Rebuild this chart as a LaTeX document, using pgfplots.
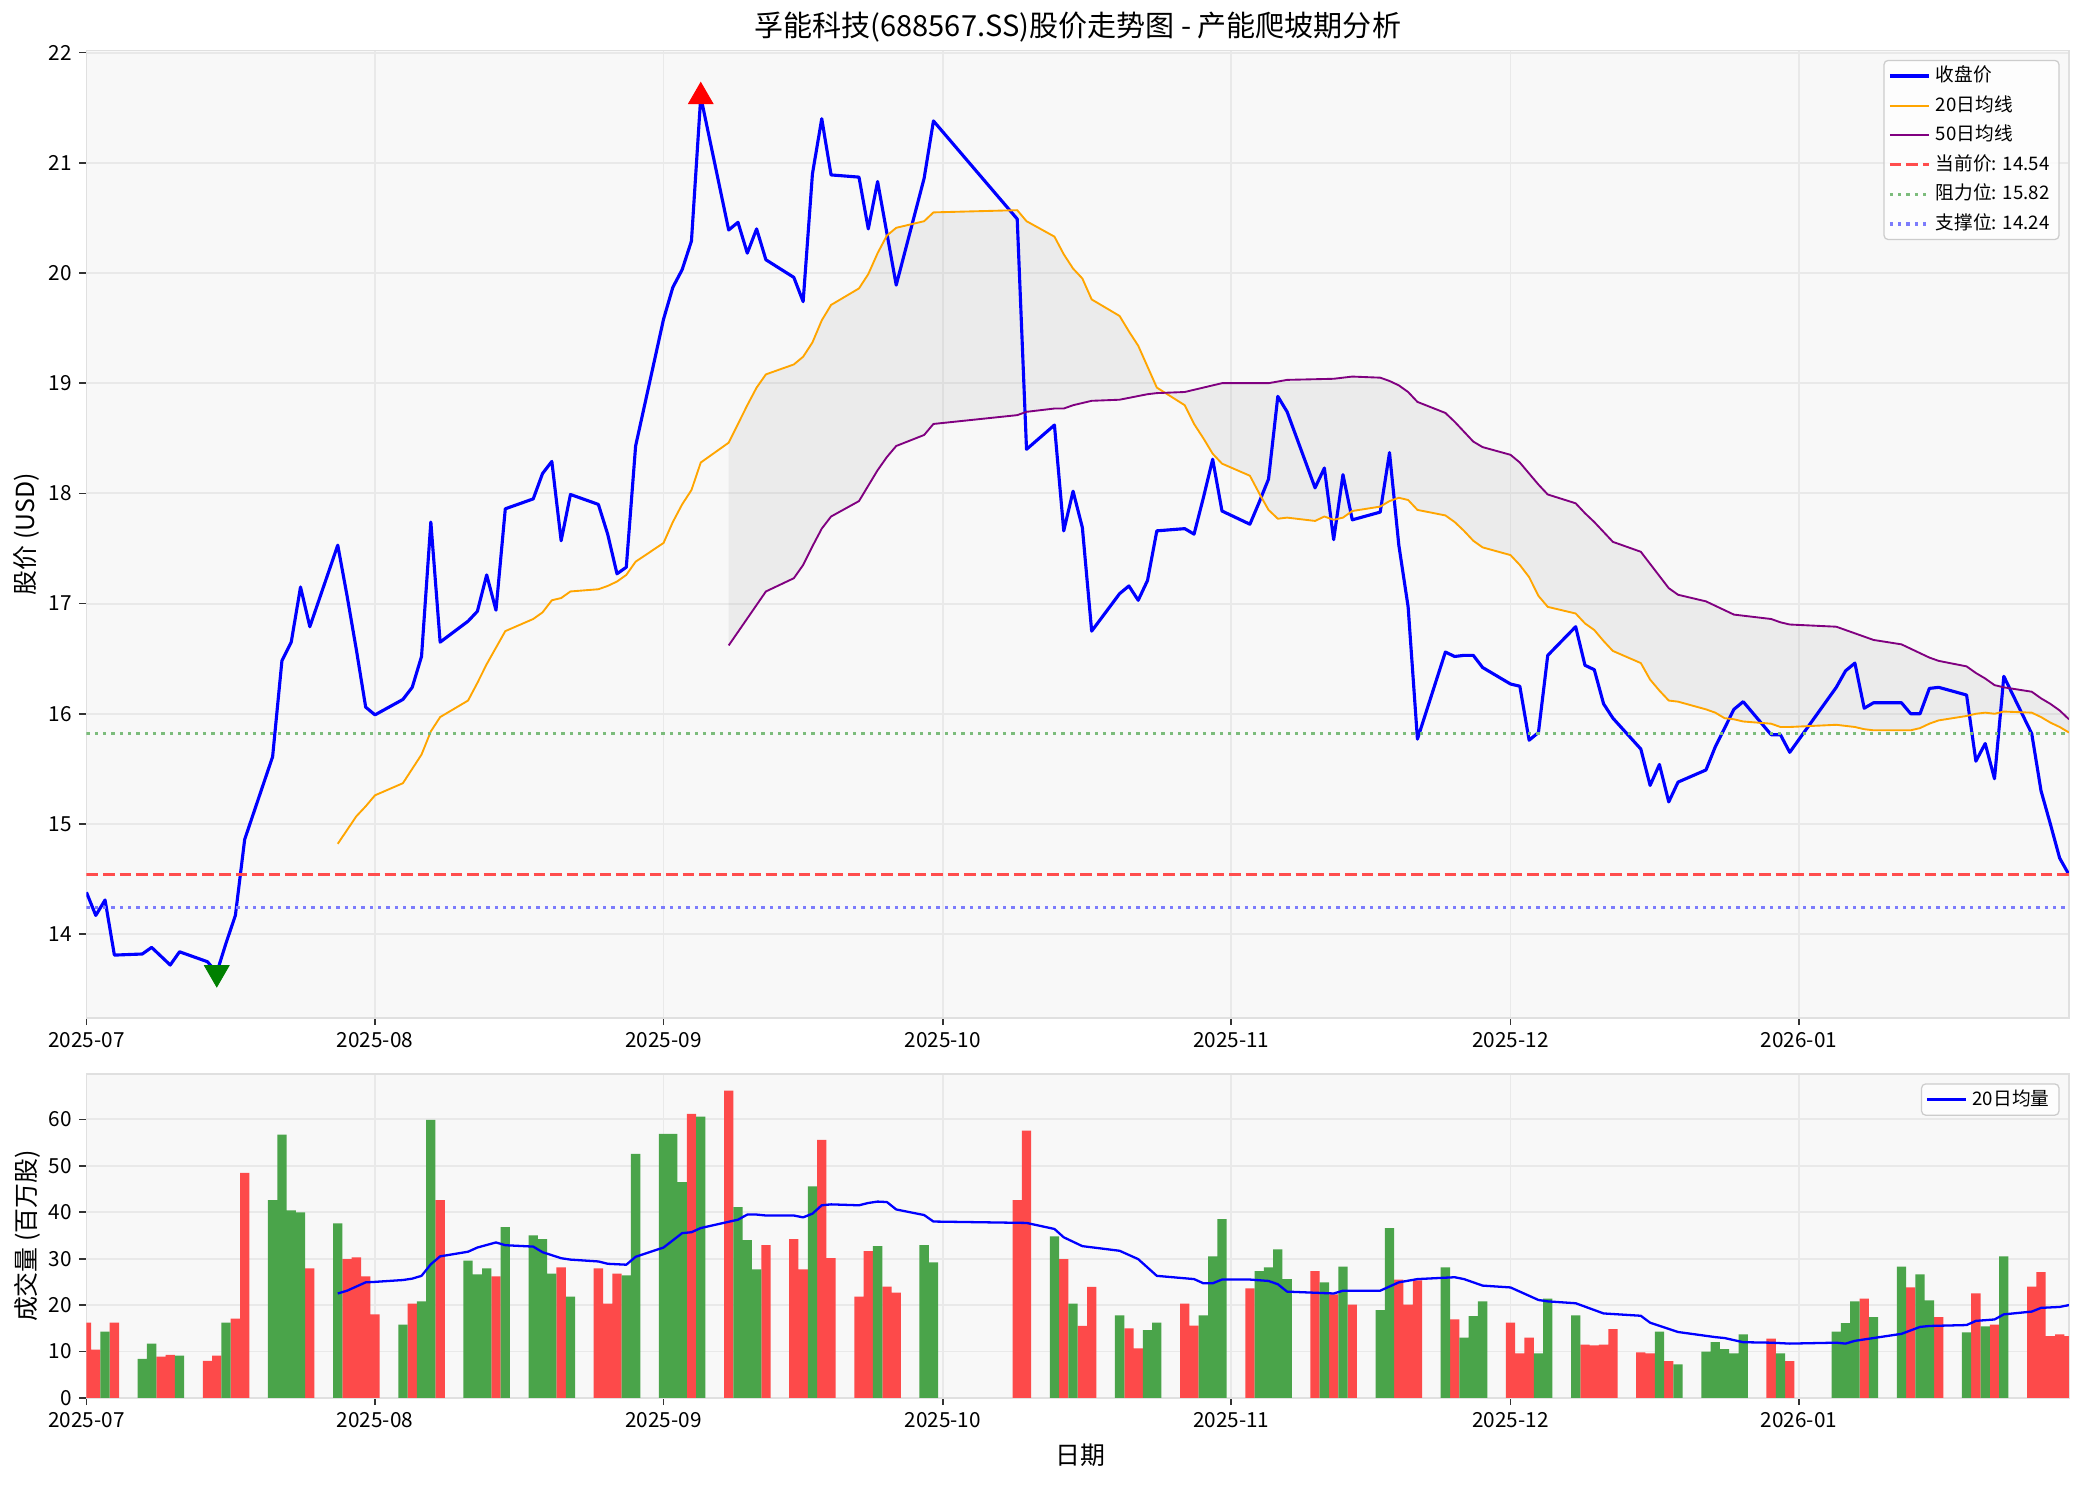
\documentclass[border=0pt]{standalone}
\usepackage{fontspec}
\setmainfont{Noto Sans CJK SC}
\usepackage{pgfplots}
\pgfplotsset{compat=1.18}
\usepackage{pgfplotstable}

\definecolor{bgc}{RGB}{248,248,248}
\definecolor{gridc}{RGB}{233,233,233}
\definecolor{upred}{RGB}{253,74,74}
\definecolor{dngreen}{RGB}{74,164,74}
\definecolor{maor}{RGB}{255,165,0}
\definecolor{mapu}{RGB}{128,0,128}
\definecolor{curred}{RGB}{255,77,77}
\definecolor{resgreen}{RGB}{124,188,124}
\definecolor{supblue}{RGB}{124,124,252}
\definecolor{mgreen}{RGB}{0,128,0}

\pgfplotstableread{
d v
0 14.38
1 14.17
2 14.31
3 13.81
6 13.82
7 13.88
8 13.80
9 13.72
10 13.84
13 13.75
14 13.65
15 13.92
16 14.17
17 14.86
20 15.61
21 16.48
22 16.65
23 17.15
24 16.79
27 17.53
28 17.07
29 16.58
30 16.06
31 15.99
34 16.13
35 16.24
36 16.52
37 17.74
38 16.65
41 16.84
42 16.93
43 17.26
44 16.94
45 17.86
48 17.95
49 18.18
50 18.29
51 17.57
52 17.99
55 17.90
56 17.63
57 17.27
58 17.33
59 18.43
62 19.58
63 19.87
64 20.03
65 20.29
66 21.60
69 20.39
70 20.46
71 20.18
72 20.40
73 20.12
76 19.96
77 19.74
78 20.90
79 21.40
80 20.89
83 20.87
84 20.40
85 20.83
86 20.36
87 19.89
90 20.86
91 21.38
100 20.49
101 18.40
104 18.62
105 17.66
106 18.02
107 17.69
108 16.75
111 17.09
112 17.16
113 17.03
114 17.21
115 17.66
118 17.68
119 17.63
120 17.96
121 18.31
122 17.84
125 17.72
126 17.92
127 18.13
128 18.88
129 18.74
132 18.05
133 18.23
134 17.58
135 18.17
136 17.76
139 17.83
140 18.37
141 17.53
142 16.97
143 15.77
146 16.56
147 16.52
148 16.53
149 16.53
150 16.42
153 16.27
154 16.25
155 15.76
156 15.83
157 16.53
160 16.79
161 16.44
162 16.40
163 16.09
164 15.96
167 15.68
168 15.35
169 15.54
170 15.20
171 15.38
174 15.49
175 15.70
176 15.87
177 16.04
178 16.11
181 15.81
182 15.81
183 15.65
188 16.24
189 16.39
190 16.46
191 16.05
192 16.10
195 16.10
196 16.00
197 16.00
198 16.23
199 16.24
202 16.17
203 15.57
204 15.73
205 15.41
206 16.34
209 15.82
210 15.30
211 15.00
212 14.69
213 14.54
}\closedata

\pgfplotstableread{
d v
27 14.82
29 15.07
30 15.16
31 15.26
34 15.37
35 15.50
36 15.63
37 15.84
38 15.97
41 16.12
42 16.28
43 16.45
44 16.60
45 16.75
48 16.86
49 16.92
50 17.03
51 17.05
52 17.11
55 17.13
56 17.16
57 17.20
58 17.26
59 17.38
62 17.55
63 17.74
64 17.90
65 18.03
66 18.28
69 18.46
70 18.63
71 18.80
72 18.96
73 19.08
76 19.17
77 19.24
78 19.37
79 19.57
80 19.71
83 19.86
84 19.99
85 20.18
86 20.34
87 20.41
90 20.47
91 20.55
100 20.57
101 20.47
104 20.33
105 20.17
106 20.04
107 19.95
108 19.76
111 19.61
112 19.47
113 19.34
114 19.15
115 18.96
118 18.80
119 18.63
120 18.50
121 18.36
122 18.27
125 18.16
126 18.00
127 17.85
128 17.77
129 17.78
132 17.75
133 17.79
134 17.76
135 17.78
136 17.84
139 17.88
140 17.93
141 17.96
142 17.94
143 17.85
146 17.80
147 17.74
148 17.66
149 17.57
150 17.51
153 17.44
154 17.35
155 17.24
156 17.07
157 16.97
160 16.91
161 16.82
162 16.76
163 16.66
164 16.57
167 16.46
168 16.31
169 16.21
170 16.12
171 16.11
174 16.04
175 16.01
176 15.96
177 15.95
178 15.93
181 15.91
182 15.88
183 15.88
188 15.90
189 15.89
190 15.88
191 15.86
192 15.85
195 15.85
196 15.85
197 15.87
198 15.91
199 15.94
202 15.98
203 16.00
204 16.01
205 16.00
206 16.02
209 16.01
210 15.97
211 15.92
212 15.88
213 15.83
}\mattwenty

\pgfplotstableread{
d v
69 16.62
73 17.11
76 17.23
77 17.35
78 17.52
79 17.68
80 17.79
83 17.93
84 18.07
85 18.21
86 18.33
87 18.43
90 18.53
91 18.63
100 18.71
101 18.74
104 18.77
105 18.77
106 18.80
108 18.84
111 18.85
114 18.90
115 18.91
118 18.92
122 19.00
127 19.00
129 19.03
134 19.04
136 19.06
139 19.05
140 19.02
141 18.98
142 18.92
143 18.83
146 18.73
147 18.65
148 18.56
149 18.47
150 18.42
153 18.35
154 18.28
155 18.18
156 18.08
157 17.99
160 17.91
161 17.82
162 17.74
163 17.65
164 17.56
167 17.47
168 17.36
169 17.25
170 17.14
171 17.08
174 17.02
175 16.98
176 16.94
177 16.90
178 16.89
181 16.86
182 16.83
183 16.81
188 16.79
189 16.76
190 16.73
191 16.70
192 16.67
195 16.63
196 16.59
197 16.55
198 16.51
199 16.48
202 16.43
203 16.37
204 16.32
205 16.26
206 16.24
209 16.20
210 16.14
211 16.09
212 16.03
213 15.95
}\mafifty

% band between the two averages: 20-day average forward, 50-day average back
\pgfplotstableread{
d v
69 18.46
70 18.63
71 18.80
72 18.96
73 19.08
76 19.17
77 19.24
78 19.37
79 19.57
80 19.71
83 19.86
84 19.99
85 20.18
86 20.34
87 20.41
90 20.47
91 20.55
100 20.57
101 20.47
104 20.33
105 20.17
106 20.04
107 19.95
108 19.76
111 19.61
112 19.47
113 19.34
114 19.15
115 18.96
118 18.80
119 18.63
120 18.50
121 18.36
122 18.27
125 18.16
126 18.00
127 17.85
128 17.77
129 17.78
132 17.75
133 17.79
134 17.76
135 17.78
136 17.84
139 17.88
140 17.93
141 17.96
142 17.94
143 17.85
146 17.80
147 17.74
148 17.66
149 17.57
150 17.51
153 17.44
154 17.35
155 17.24
156 17.07
157 16.97
160 16.91
161 16.82
162 16.76
163 16.66
164 16.57
167 16.46
168 16.31
169 16.21
170 16.12
171 16.11
174 16.04
175 16.01
176 15.96
177 15.95
178 15.93
181 15.91
182 15.88
183 15.88
188 15.90
189 15.89
190 15.88
191 15.86
192 15.85
195 15.85
196 15.85
197 15.87
198 15.91
199 15.94
202 15.98
203 16.00
204 16.01
205 16.00
206 16.02
209 16.01
210 15.97
211 15.92
212 15.88
213 15.83
213 15.95
212 16.03
211 16.09
210 16.14
209 16.20
206 16.24
205 16.26
204 16.32
203 16.37
202 16.43
199 16.48
198 16.51
197 16.55
196 16.59
195 16.63
192 16.67
191 16.70
190 16.73
189 16.76
188 16.79
183 16.81
182 16.83
181 16.86
178 16.89
177 16.90
176 16.94
175 16.98
174 17.02
171 17.08
170 17.14
169 17.25
168 17.36
167 17.47
164 17.56
163 17.65
162 17.74
161 17.82
160 17.91
157 17.99
156 18.08
155 18.18
154 18.28
153 18.35
150 18.42
149 18.47
148 18.56
147 18.65
146 18.73
143 18.83
142 18.92
141 18.98
140 19.02
139 19.05
136 19.06
134 19.04
129 19.03
127 19.00
122 19.00
118 18.92
115 18.91
114 18.90
111 18.85
108 18.84
106 18.80
105 18.77
104 18.77
101 18.74
100 18.71
91 18.63
90 18.53
87 18.43
86 18.33
85 18.21
84 18.07
83 17.93
80 17.79
79 17.68
78 17.52
77 17.35
76 17.23
73 17.11
69 16.62
}\band

\pgfplotstableread{
d v
0 16.2
1 10.4
3 16.2
8 8.9
9 9.3
13 8.0
14 9.1
16 17.1
17 48.5
24 27.9
28 29.9
29 30.3
30 26.2
31 18.0
35 20.3
38 42.6
44 26.2
51 28.1
55 27.9
56 20.3
57 26.8
65 61.2
69 66.2
73 32.9
76 34.2
77 27.7
79 55.6
80 30.1
83 21.8
84 31.6
86 24.0
87 22.7
100 42.6
101 57.6
105 29.9
107 15.5
108 23.9
112 15.0
113 10.7
118 20.3
119 15.6
125 23.6
132 27.3
134 22.3
136 20.1
141 25.5
142 20.1
143 25.3
147 16.9
153 16.2
154 9.6
155 13.0
161 11.5
162 11.3
163 11.5
164 14.8
167 9.8
168 9.6
170 7.9
181 12.8
183 7.9
191 21.4
196 23.8
199 17.4
203 22.5
205 15.8
209 24.0
210 27.1
211 13.3
212 13.7
213 13.3
}\volred

\pgfplotstableread{
d v
2 14.3
6 8.4
7 11.7
10 9.1
15 16.2
20 42.6
21 56.7
22 40.4
23 40.0
27 37.6
34 15.8
36 20.8
37 59.9
41 29.6
42 26.6
43 27.9
45 36.8
48 35.0
49 34.2
50 26.8
52 21.8
58 26.4
59 52.6
62 56.9
63 56.9
64 46.5
66 60.6
70 41.1
71 34.0
72 27.7
78 45.6
85 32.7
90 32.9
91 29.2
104 34.8
106 20.3
111 17.8
114 14.6
115 16.2
120 17.8
121 30.5
122 38.5
126 27.3
127 28.1
128 32.0
129 25.6
133 24.9
135 28.3
139 18.9
140 36.6
146 28.1
148 13.0
149 17.6
150 20.8
156 9.6
157 21.4
160 17.8
169 14.3
171 7.2
174 10.0
175 12.0
176 10.5
177 9.6
178 13.7
182 9.6
188 14.3
189 16.1
190 20.8
192 17.4
195 28.3
197 26.6
198 21.0
202 14.1
204 15.4
206 30.5
}\volgreen

\pgfplotstableread{
d v
27 22.5
28 23.1
30 24.9
31 25.0
34 25.4
35 25.7
36 26.3
37 28.8
38 30.5
41 31.5
42 32.4
44 33.5
45 32.9
48 32.6
49 31.4
51 30.1
52 29.8
55 29.4
56 28.9
58 28.7
59 30.4
62 32.4
64 35.5
65 35.7
66 36.6
70 38.4
71 39.5
72 39.5
73 39.3
76 39.3
77 38.9
78 39.7
79 41.5
80 41.7
83 41.5
84 42.0
85 42.3
86 42.2
87 40.6
90 39.4
91 38.0
101 37.7
104 36.4
105 34.6
107 32.7
111 31.7
113 29.9
115 26.3
119 25.6
120 24.7
121 24.7
122 25.5
125 25.5
127 25.2
128 24.5
129 22.9
134 22.5
135 23.1
139 23.1
141 24.9
143 25.6
147 26.0
148 25.6
150 24.2
153 23.8
156 21.1
157 20.8
160 20.4
163 18.2
167 17.7
168 16.2
171 14.2
175 13.1
176 12.9
178 12.0
181 11.9
183 11.7
188 11.9
189 11.7
190 12.3
195 13.8
197 15.3
198 15.5
202 15.7
203 16.6
205 16.9
206 18.0
209 18.6
210 19.4
212 19.6
213 20.0
}\volma

\pgfplotsset{
  mystyle/.style={
    scale only axis,
    anchor=south west,
    width=951.6bp,
    xmin=0, xmax=213,
    axis background/.style={fill=bgc},
    axis line style={draw=black!12, line width=0.8bp},
    grid=major,
    major grid style={draw=gridc, line width=0.9bp},
    tick style={draw=black!80, line width=0.8bp},
    major tick length=3.5bp,
    tick align=outside,
    xtick pos=lower, ytick pos=left,
    xtick={0,31,62,92,123,153,184},
    xticklabels={2025-07,2025-08,2025-09,2025-10,2025-11,2025-12,2026-01},
    tick label style={font=\fontsize{10}{12}\selectfont},
    /pgf/number format/assume math mode=true,
    legend image code/.code={\draw[##1, line cap=butt] (0bp,0bp) -- (18.8bp,0bp);},
    legend style={at={(1,1)}, anchor=north east, xshift=-4.5bp, yshift=-4.5bp,
      draw=black!20, line width=0.6bp, rounded corners=2bp,
      fill=white, fill opacity=0.8, text opacity=1, draw opacity=1,
      font=\fontsize{9}{10}\selectfont,
      inner xsep=2bp, inner ysep=3bp, row sep=5.2bp, column sep=0bp,
      nodes={inner ysep=0bp, inner xsep=2.6bp, text height=7.2bp, text depth=1.8bp},
      cells={anchor=west}},
  }
}

\begin{document}
\begin{tikzpicture}
\path[use as bounding box] (0,0) rectangle (1000.32bp,712.8bp);

\begin{axis}[mystyle,
  at={(41.5bp,224.2bp)}, height=464.4bp,
  ymin=13.24, ymax=22.02,
  ytick={14,15,...,22},
]
\addplot[fill=gray, fill opacity=0.1, draw=none, forget plot] table[x=d,y=v] {\band} -- cycle;

\addplot[color=blue, line width=1.5bp, line join=round] table[x=d,y=v] {\closedata};
\addlegendentry{收盘价}
\addplot[color=maor, line width=0.9bp, line join=round] table[x=d,y=v] {\mattwenty};
\addlegendentry{20日均线}
\addplot[color=mapu, line width=0.9bp, line join=round] table[x=d,y=v] {\mafifty};
\addlegendentry{50日均线}
\addplot[color=curred, line width=1.5bp, dash pattern=on 5.55bp off 2.4bp] coordinates {(0,14.54) (213,14.54)};
\addlegendentry{当前价: 14.54}
\addplot[color=resgreen, line width=1.5bp, dash pattern=on 1.5bp off 2.5bp] coordinates {(0,15.82) (213,15.82)};
\addlegendentry{阻力位: 15.82}
\addplot[color=supblue, line width=1.5bp, dash pattern=on 1.5bp off 2.5bp] coordinates {(0,14.24) (213,14.24)};
\addlegendentry{支撑位: 14.24}

\addplot[only marks, mark=triangle*, mark size=6.8bp, mark options={fill=red, draw=red}, forget plot] coordinates {(66,21.60)};
\addplot[only marks, mark=triangle*, mark size=6.8bp, mark options={rotate=180, fill=mgreen, draw=mgreen}, forget plot] coordinates {(14,13.65)};
\end{axis}

\begin{axis}[mystyle,
  at={(41.5bp,41.8bp)}, height=155.5bp,
  ymin=0, ymax=69.8,
  ytick={0,10,...,60},
]
\addplot[ybar, bar width=1, bar shift=0pt, fill=upred, draw=none, forget plot] table[x=d,y=v] {\volred};
\addplot[ybar, bar width=1, bar shift=0pt, fill=dngreen, draw=none, forget plot] table[x=d,y=v] {\volgreen};
\addplot[color=blue, line width=1.1bp, line join=round] table[x=d,y=v] {\volma};
\addlegendentry{20日均量}
\end{axis}

\node[font=\fontsize{14}{16}\selectfont] at (517.3bp,699.7bp) {孚能科技(688567.SS)股价走势图 - 产能爬坡期分析};
\node[rotate=90, font=\fontsize{12}{14}\selectfont] at (12.9bp,456.4bp) {股价 (USD)};
\node[rotate=90, font=\fontsize{12}{14}\selectfont] at (12.9bp,119.5bp) {成交量 (百万股)};
\node[font=\fontsize{12}{14}\selectfont] at (518.6bp,14.4bp) {日期};
\end{tikzpicture}
\end{document}
